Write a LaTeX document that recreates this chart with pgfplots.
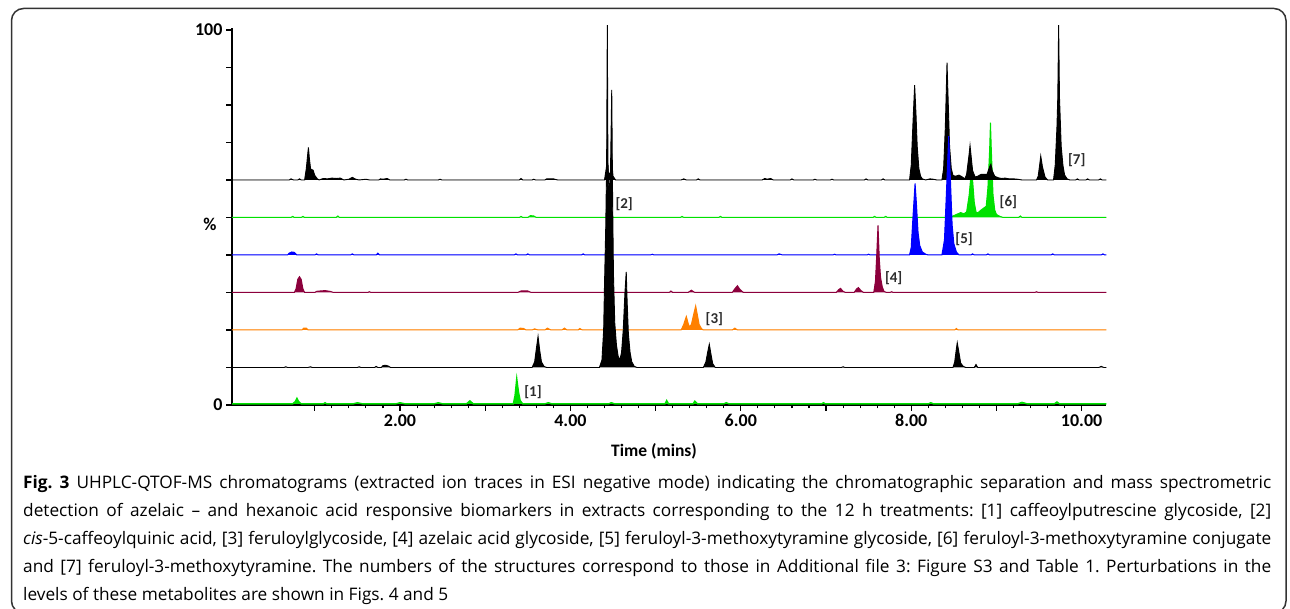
\documentclass[border=0pt]{standalone}
\usepackage{fontspec}
\setmainfont{Carlito}
\newfontfamily\capfont{Open Sans}
\usepackage{pgfplots}
\usepackage{pgfplotstable}
\pgfplotsset{compat=1.18}
\definecolor{cgreen}{RGB}{0,225,0}
\definecolor{cblue}{RGB}{0,0,255}
\definecolor{cmaroon}{RGB}{140,0,60}
\definecolor{corange}{RGB}{255,128,0}
\definecolor{lblgray}{RGB}{45,45,45}

% trace at offset 60 (black, top)
\pgfplotstableread{
t v
0.03 0
0.70 0
0.72 0.3
0.75 0
0.80 0
0.82 0.3
0.84 0
0.88 0
0.90 3.0
0.915 6.5
0.925 8.7
0.935 6.0
0.95 3.0
0.96 2.8
0.98 2.6
1.00 1.2
1.03 0.3
1.05 0
1.10 0.4
1.15 0.3
1.20 0.5
1.25 0.4
1.30 0.5
1.34 0
1.40 0.2
1.44 0.7
1.48 0.2
1.52 0
1.60 0.2
1.64 0
1.75 0
1.77 0.3
1.80 0.2
1.85 0.4
1.88 0
2.05 0
2.07 0.2
2.09 0
2.45 0
2.47 0.2
2.49 0
3.40 0
3.42 0.4
3.44 0
3.55 0
3.57 0.2
3.59 0
3.70 0
3.72 0.3
3.80 0.3
3.85 0
4.40 0
4.42 3
4.433 5.3
4.445 2
4.46 1.5
4.475 2.5
4.485 5.0
4.50 1
4.53 0
5.30 0
5.33 0.3
5.36 0
5.48 0
5.50 0.3
5.52 0
6.25 0
6.28 0.4
6.31 0.2
6.35 0.4
6.38 0
6.58 0
6.60 0.3
6.62 0
6.85 0
6.87 0.2
6.89 0
7.05 0
7.07 0.2
7.09 0
7.45 0
7.47 0.3
7.49 0
7.65 0
7.67 0.3
7.69 0
7.98 0
8.00 4
8.02 15
8.04 25.3
8.055 18
8.07 9
8.09 3
8.11 1
8.13 0.3
8.17 0
8.22 0.3
8.26 0.2
8.30 0
8.36 0
8.38 3
8.40 14
8.42 31.3
8.435 20
8.45 9
8.47 3
8.49 1.2
8.52 1.0
8.56 1.3
8.60 0.8
8.63 0.3
8.65 1.5
8.68 7
8.69 9.2
8.70 7
8.72 2.5
8.75 0.8
8.78 1.0
8.82 1.5
8.86 1.5
8.89 1.5
8.92 3.5
8.935 4.2
8.95 2.5
8.98 1.0
9.02 0.6
9.06 0.4
9.10 0.5
9.15 0.3
9.20 0.3
9.25 0.2
9.30 0
9.47 0
9.49 1.0
9.51 4.5
9.52 6.4
9.54 3.5
9.57 0.8
9.60 0
9.67 0
9.69 4
9.71 14
9.72 22
9.73 41.3
9.74 22
9.76 9
9.78 4
9.80 1.3
9.83 0.3
9.86 0
9.93 0
9.95 0.3
9.97 0
10.05 0
10.07 0.3
10.09 0
10.20 0
10.22 0.3
10.24 0
10.29 0
}\trTop

% trace at offset 50 (green)
\pgfplotstableread{
t v
0.03 0
0.72 0
0.74 0.3
0.76 0
0.84 0
0.86 0.3
0.88 0
1.25 0
1.27 0.4
1.29 0
3.40 0
3.42 0.3
3.44 0
3.50 0
3.53 0.5
3.57 0.4
3.60 0
5.29 0
5.31 0.3
5.33 0
5.74 0
5.76 0.3
5.78 0
7.55 0
7.57 0.3
7.59 0
7.68 0
7.70 0.3
7.72 0
8.45 0
8.50 0.5
8.55 1.0
8.58 1.3
8.62 1.0
8.65 1.5
8.68 6
8.70 11
8.71 13.6
8.72 10
8.74 4
8.76 1.5
8.78 1.2
8.82 2
8.85 2.5
8.88 3
8.90 8
8.92 18
8.93 25.3
8.94 18
8.96 6
8.98 2
9.00 0.8
9.04 0.3
9.08 0
9.26 0
9.28 0.4
9.30 0
10.29 0
}\trGreenB

% trace at offset 40 (blue)
\pgfplotstableread{
t v
0.03 0
0.68 0
0.70 0.5
0.73 0.8
0.76 0.7
0.79 0
1.00 0
1.02 0.3
1.04 0
1.42 0
1.44 0.3
1.46 0
1.72 0
1.74 0.5
1.76 0
3.34 0
3.36 0.3
3.38 0
3.48 0
3.50 0.3
3.52 0
4.13 0
4.15 0.3
4.17 0
4.94 0
4.96 0.2
4.98 0
6.42 0
6.45 0.3
6.49 0
7.08 0
7.10 0.2
7.12 0
7.48 0
7.50 0.2
7.52 0
7.98 0
8.00 2
8.02 10
8.045 19.1
8.06 14
8.08 6
8.10 2.5
8.13 0.8
8.17 0.2
8.20 0
8.36 0
8.39 4
8.41 15
8.44 31.7
8.46 20
8.48 8
8.50 3
8.53 0.8
8.56 0
8.70 0
8.72 0.3
8.74 0
8.88 0
8.90 0.3
8.92 0
9.64 0
9.66 0.3
9.68 0
10.23 0
10.25 0.3
10.27 0
10.29 0
}\trBlue

% trace at offset 30 (maroon)
\pgfplotstableread{
t v
0.03 0
0.76 0
0.78 1
0.80 3.5
0.82 4.2
0.84 3.5
0.86 1
0.88 0
1.00 0
1.02 0.3
1.06 0.4
1.12 0.5
1.18 0.3
1.22 0
1.62 0
1.64 0.2
1.66 0
3.38 0
3.42 0.4
3.50 0.4
3.54 0
5.16 0
5.18 0.4
5.20 0
5.38 0
5.42 0.6
5.46 0
5.90 0
5.93 1.0
5.96 1.8
5.99 0.8
6.03 0
7.12 0
7.15 0.8
7.17 1.1
7.20 0.3
7.23 0
7.33 0
7.36 1.0
7.38 1.3
7.41 0.5
7.44 0
7.56 0
7.58 3
7.595 10
7.61 17.9
7.625 9
7.64 4
7.66 1.5
7.68 0.3
7.71 0
7.75 0
7.77 0.2
7.79 0
9.45 0
9.47 0.2
9.49 0
10.29 0
}\trMaroon

% trace at offset 20 (orange)
\pgfplotstableread{
t v
0.03 0
0.85 0
0.87 0.5
0.90 0.5
0.92 0
3.38 0
3.41 0.5
3.45 0.4
3.48 0
3.55 0
3.58 0.3
3.62 0
3.70 0
3.73 0.5
3.77 0
3.90 0
3.93 0.5
3.96 0
4.09 0
4.11 0.4
4.14 0
5.30 0
5.33 1.5
5.36 3.6
5.385 1.5
5.40 0.8
5.42 1.5
5.45 4.5
5.47 6.4
5.49 4
5.51 1.5
5.54 0.3
5.56 0
5.90 0
5.93 0.5
5.96 0
8.51 0
8.53 0.4
8.55 0
10.29 0
}\trOrange

% trace at offset 10 (black, lower)
\pgfplotstableread{
t v
0.03 0
0.64 0
0.66 0.2
0.68 0
0.92 0
0.95 0.2
0.97 0
1.50 0
1.52 0.2
1.54 0
1.70 0
1.72 0.3
1.74 0
1.78 0
1.80 0.5
1.83 0.6
1.86 0.4
1.89 0
3.55 0
3.58 1.5
3.60 5
3.62 8.3
3.64 4.5
3.66 1.5
3.69 0.3
3.72 0
4.34 0
4.37 2
4.39 10
4.40 22
4.415 38
4.425 55
4.433 91.3
4.44 55
4.455 45
4.47 52
4.485 74
4.495 45
4.505 25
4.52 12
4.54 6
4.56 3
4.58 2
4.60 4
4.62 10
4.64 20
4.655 25.5
4.665 18
4.68 9
4.70 4
4.72 1.5
4.75 0.3
4.78 0
5.56 0
5.59 1.5
5.61 4
5.63 6.2
5.65 3.5
5.67 1
5.70 0
7.18 0
7.20 0.2
7.22 0
8.49 0
8.51 1.5
8.53 5
8.54 6.6
8.56 4
8.58 1.2
8.61 0.3
8.64 0
8.74 0
8.76 0.8
8.78 0
10.20 0
10.23 0.3
10.26 0
10.29 0
}\trBlack

% trace at offset 0 (green, bottom)
\pgfplotstableread{
t v
0.03 0.3
0.74 0.3
0.77 0.9
0.79 1.8
0.81 0.9
0.84 0.3
1.10 0.3
1.12 0.6
1.14 0.3
1.45 0.3
1.50 0.6
1.56 0.3
1.95 0.3
2.00 0.6
2.06 0.3
2.40 0.3
2.45 0.6
2.50 0.3
2.78 0.3
2.82 1.1
2.86 0.3
3.33 0.3
3.35 2.5
3.37 7.0
3.39 3.5
3.41 1.2
3.44 0.3
3.70 0.3
3.74 0.6
3.78 0.3
4.45 0.3
4.48 0.6
4.52 0.3
5.11 0.3
5.13 1.2
5.15 0.3
5.44 0.3
5.46 1.0
5.49 0.3
5.80 0.3
5.83 0.6
5.86 0.3
6.95 0.3
6.97 0.6
6.99 0.3
8.20 0.3
8.23 0.6
8.26 0.3
9.25 0.3
9.30 0.7
9.36 0.3
9.68 0.3
9.71 0.8
9.74 0.3
10.29 0.3
}\trGreenA

\newcommand\capA{\textbf{Fig. 3} UHPLC-QTOF-MS chromatograms (extracted ion traces in ESI negative mode) indicating the chromatographic separation and mass spectrometric}
\newcommand\capB{detection of azelaic – and hexanoic acid responsive biomarkers in extracts corresponding to the 12 h treatments: [1] caffeoylputrescine glycoside, [2]}
\newcommand\capC{\textit{cis}-5-caffeoylquinic acid, [3] feruloylglycoside, [4] azelaic acid glycoside, [5] feruloyl-3-methoxytyramine glycoside, [6] feruloyl-3-methoxytyramine conjugate}
\newcommand\capD{and [7] feruloyl-3-methoxytyramine. The numbers of the structures correspond to those in Additional file 3: Figure S3 and Table 1. Perturbations in the}
\newcommand\capE{levels of these metabolites are shown in Figs. 4 and 5}
\newlength\capw
\newlength\capwmax

\begin{document}
\frenchspacing
\setlength\capwmax{0pt}%
\settowidth\capw{\capfont\fontsize{10}{12}\selectfont\capA}\ifdim\capw>\capwmax\setlength\capwmax{\capw}\fi
\settowidth\capw{\capfont\fontsize{10}{12}\selectfont\capB}\ifdim\capw>\capwmax\setlength\capwmax{\capw}\fi
\settowidth\capw{\capfont\fontsize{10}{12}\selectfont\capC}\ifdim\capw>\capwmax\setlength\capwmax{\capw}\fi
\settowidth\capw{\capfont\fontsize{10}{12}\selectfont\capD}\ifdim\capw>\capwmax\setlength\capwmax{\capw}\fi
\pgfmathsetmacro\capsize{12400/\capwmax}%
\begin{tikzpicture}
\useasboundingbox (0pt,0pt) rectangle (1290pt,609pt);
\draw[overlay, line width=1.5pt, color=black!80, rounded corners=12pt] (11.5pt,-4pt) rectangle (1286pt,600.5pt);
\begin{axis}[
  at={(232pt,204pt)}, anchor=south west,
  scale only axis, width=874pt, height=376.9pt,
  xmin=0.028, xmax=10.286, ymin=0, ymax=100.5,
  axis x line*=bottom, axis y line*=left,
  axis line style={-, line width=2.2pt, black},
  clip=false, no markers,
  xtick={1,2,...,10},
  xticklabels={{},2.00,{},4.00,{},6.00,{},8.00,{},10.00},
  minor x tick num=4,
  ytick={0,10,...,100},
  yticklabels={0,{},{},{},{},{},{},{},{},{},100},
  tick align=outside,
  major tick length=6pt, minor tick length=3.5pt,
  tick style={line width=1.1pt, black},
  ticklabel style={font=\bfseries\fontsize{18}{18}\selectfont},
]
\addplot[draw=cgreen, fill=cgreen, line width=1pt] table[x=t, y expr=\thisrow{v}+50]{\trGreenB};
\addplot[draw=black, fill=black, line width=0.9pt] table[x=t, y expr=\thisrow{v}+60]{\trTop};
\addplot[draw=cblue, fill=cblue, line width=1pt] table[x=t, y expr=\thisrow{v}+40]{\trBlue};
\addplot[draw=cmaroon, fill=cmaroon, line width=1pt] table[x=t, y expr=\thisrow{v}+30]{\trMaroon};
\addplot[draw=corange, fill=corange, line width=1pt] table[x=t, y expr=\thisrow{v}+20]{\trOrange};
\addplot[draw=black, fill=black, line width=0.9pt] table[x=t, y expr=\thisrow{v}+10]{\trBlack};
\addplot[draw=cgreen, fill=cgreen, line width=1.4pt] table[x=t, y expr=\thisrow{v}]{\trGreenA};
\begin{scope}[every node/.style={font=\bfseries\fontsize{15}{15}\selectfont, text=lblgray, inner sep=0pt}]
\node at (axis cs:3.561,3.47) {[1]};
\node at (axis cs:4.631,53.5) {[2]};
\node at (axis cs:5.689,22.9) {[3]};
\node at (axis cs:7.794,33.7) {[4]};
\node at (axis cs:8.620,44.2) {[5]};
\node at (axis cs:9.140,54.2) {[6]};
\node at (axis cs:9.942,65.3) {[7]};
\end{scope}
\end{axis}
\node[font=\bfseries\fontsize{18}{18}\selectfont, inner sep=0pt] at (210pt,385pt) {\%};
\node[font=\bfseries\fontsize{17.5}{17.5}\selectfont, inner sep=0pt] at (654pt,158pt) {Time (mins)};
\begin{scope}[every node/.style={anchor=base west, inner sep=0pt, font=\capfont\fontsize{\capsize}{20}\selectfont}]
\node at (23pt,120pt) {\makebox[1248pt][s]{\capA}};
\node at (23pt,92pt) {\makebox[1248pt][s]{\capB}};
\node at (23pt,64pt) {\makebox[1248pt][s]{\capC}};
\node at (23pt,36pt) {\makebox[1248pt][s]{\capD}};
\node at (23pt,8pt) {\capE};
\end{scope}
\end{tikzpicture}
\end{document}
